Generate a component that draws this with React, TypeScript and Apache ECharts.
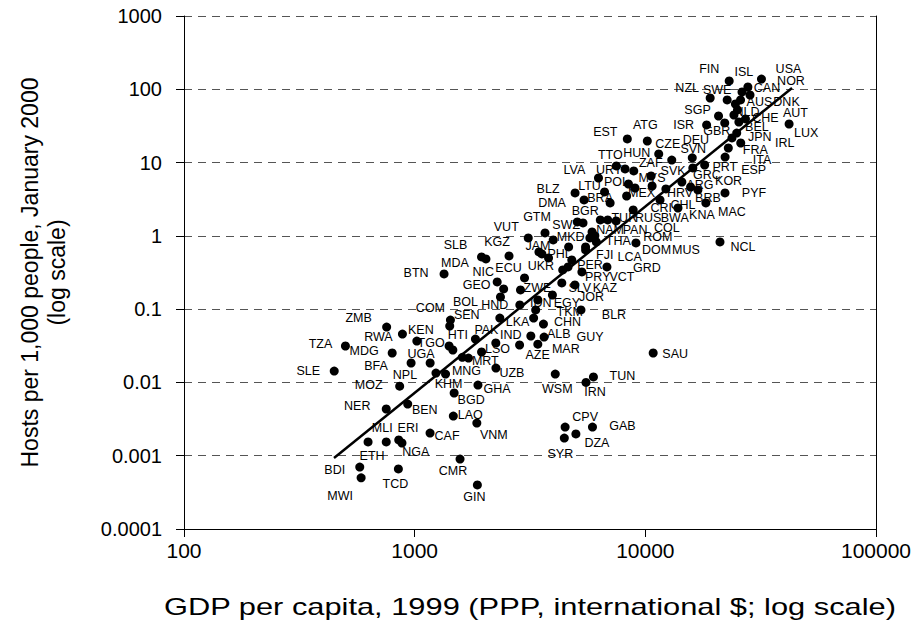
import React, { useEffect, useRef } from "react";
import * as echarts from "echarts";

// ---- data ----
const countries = [
  "BDI","MWI","ETH","MLI","NER","ERI","NGA","TCD","BEN","MOZ","CAF","CMR","GIN","LAO","VNM","BGD","KHM","NPL","BFA","UGA",
  "SLE","TZA","MDG","ZMB","RWA","KEN","TGO","HTI","SEN","COM","MNG","MRT","UZB","GHA","BTN","PAK","IND","LSO","AZE","MAR",
  "ALB","GUY","CHN","LKA","EGY","TKM","IDN","HND","BOL","GEO","NIC","ECU","ZWE","UKR","SLB","MDA","KGZ","VUT","GTM","BLZ",
  "DMA","LTU","BRA","POL","LVA","URY","TTO","MYS","MEX","HRV","ARG","GRC","KOR","BRB","MAC","PYF","CHL","CRI","KNA","TUR",
  "RUS","BWA","SWZ","MKD","BGR","NAM","PAN","COL","THA","ROM","DOM","MUS","FJI","LCA","PER","GRD","PRY","VCT","SLV","KAZ",
  "JOR","BLR","PHL","JAM","TUN","IRN","WSM","SAU","CPV","DZA","SYR","GAB","NCL","SVK","ZAF","HUN","CZE","SVN","PRT","ESP",
  "ITA","FRA","DEU","JPN","IRL","BEL","GBR","ISR","SGP","NLD","CHE","AUT","AUS","DNK","CAN","NOR","ISL","USA","FIN","SWE",
  "NZL","LUX","ATG","EST",
];
const gdpPerCapita = [
  578,586,628,753,753,881,853,850,933,861,1166,1573,1870,1471,1860,1483,1361,1237,965,1167,
  448,501,799,756,885,1022,1410,1464,1419,1429,1711,1609,2251,1881,1341,1834,2248,1950,2850,3419,
  3189,3640,3617,3279,3420,3347,2857,2340,2355,2431,2279,2994,2876,3458,1949,2037,2565,3108,3674,4959,
  5425,6656,7037,8450,6264,8170,7485,9020,8297,10700,12277,14400,15712,16900,18300,22150,11580,8860,13850,6380,
  7473,6872,3987,4651,5071,5369,5875,5749,6132,6041,5507,9107,4799,5509,4622,6817,4384,5309,4344,4951,
  3955,5260,3805,3561,5957,5531,4070,10815,4490,5000,4454,5900,21070,10591,8908,11430,13018,15977,16064,18079,
  22172,22897,23742,24898,25918,25443,22093,18440,20767,24215,27171,25089,24574,25869,26251,28433,27835,31872,23096,22636,
  19104,42000,10200,8355,
];
const hostsPer1000 = [
  0.0007,0.0005,0.00154,0.00154,0.00434,0.00149,0.00164,0.00066,0.00507,0.0089,0.00204,0.0009,0.0004,0.00348,0.00279,0.00717,0.013,0.0134,0.0184,0.0184,
  0.0143,0.0314,0.0252,0.057,0.0457,0.0367,0.0314,0.0277,0.0588,0.071,0.0215,0.022,0.0157,0.0092,0.302,0.039,0.0345,0.026,0.0324,0.0333,
  0.043,0.0416,0.0626,0.0756,0.1335,0.0975,0.114,0.0756,0.147,0.189,0.235,0.267,0.183,0.603,0.516,0.484,0.532,0.936,1.095,3.85,
  3.09,3.97,2.81,5.1,6.16,8.18,8.99,4.5,3.5,4.79,4.37,5.43,4.64,4.23,2.81,3.85,3.09,2.26,2.4,1.65,
  1.6,1.65,0.88,0.706,1.55,1.5,1.13,0.936,0.826,1.0,0.706,0.8,0.469,0.642,0.377,0.377,0.343,0.322,0.228,0.214,
  0.156,0.0975,0.5,0.566,0.0119,0.01,0.013,0.0252,0.00246,0.00198,0.00174,0.00246,0.826,6.56,7.68,13.1,10.8,11.6,8.44,9.27,
  11.9,15.8,21.7,25.3,18.5,35.8,34.7,32.6,43.2,44.6,39.4,52.2,63,71.5,91.9,83.6,107.5,138,130,71.5,
  76.1,33.6,19.7,21,
];
const trendGdp = [447, 43250];
const trendHosts = [0.00093, 104];
const xTickLabels = ["100", "1000", "10000", "100000"];
const yTickLabels = ["0.0001", "0.001", "0.01", "0.1", "1", "10", "100", "1000"];
const xTitle = "GDP per capita, 1999 (PPP, international $; log scale)";
const yTitle = "Hosts per 1,000 people, January 2000\n(log scale)";

// ---- label placement (style): offset of label centre from the dot, px ----
const labelOffsets: Record<string, [number, number]> = {
  BDI:[-25,3],MWI:[-21,18],ETH:[4,14],MLI:[-4,-14],NER:[-29,-3],ERI:[6,-15],NGA:[17,12],TCD:[-3,15],BEN:[17,6],MOZ:[-31,-1],
  CAF:[17,3],CMR:[-7,12],GIN:[-3,12],LAO:[17,-1],VNM:[17,12],BGD:[17,7],KHM:[3,10],NPL:[-31,2],BFA:[-35,3],UGA:[-9,-9],
  SLE:[-26,0],TZA:[-25,-2],MDG:[-28,-2],ZMB:[-28,-9],RWA:[-24,3],KEN:[4,-11],TGO:[-18,-3],HTI:[5,-15],SEN:[17,-11],COM:[-20,-12],
  MNG:[-2,13],MRT:[23,4],UZB:[16,5],GHA:[19,4],BTN:[-28,-1],PAK:[11,-9],IND:[15,-8],LSO:[16,-3],AZE:[18,10],MAR:[28,5],
  ALB:[28,-2],GUY:[46,0],CHN:[24,-2],LKA:[-16,4],EGY:[29,3],TKM:[34,2],IDN:[21,-2],HND:[-5,-13],BOL:[-35,5],GEO:[-27,-4],
  NIC:[-14,-10],ECU:[-16,-10],ZWE:[17,-2],UKR:[2,14],SLB:[-26,-12],MDA:[-31,4],KGZ:[-12,-14],VUT:[-22,-11],GTM:[-8,-16],BLZ:[-27,-4],
  DMA:[-32,3],LTU:[-15,-6],BRA:[-10,-5],POL:[-12,-2],LVA:[-24,-8],URY:[-16,1],TTO:[-6,-11],MYS:[17,-10],MEX:[15,-3],HRV:[28,7],
  ARG:[34,-4],GRC:[25,-7],KOR:[38,-6],BRB:[10,8],MAC:[26,9],PYF:[29,0],CHL:[23,5],CRI:[28,-2],KNA:[24,7],TUR:[24,-2],
  RUS:[32,-3],BWA:[67,-2],SWZ:[13,-15],MKD:[2,-10],BGR:[8,-11],NAM:[27,7],PAN:[43,-2],COL:[77,-10],THA:[22,-1],ROM:[63,1],
  DOM:[71,3],MUS:[50,7],FJI:[33,-5],LCA:[44,7],PER:[22,-2],GRD:[40,1],PRY:[35,7],VCT:[40,5],SLV:[18,5],KAZ:[30,3],
  JOR:[39,2],BLR:[33,5],PHL:[11,-4],JAM:[-4,-8],TUN:[29,-1],IRN:[9,10],WSM:[2,15],SAU:[22,1],CPV:[20,-10],DZA:[21,9],
  SYR:[-4,16],GAB:[30,-1],NCL:[23,5],SVK:[22,-5],ZAF:[17,-8],HUN:[-22,-1],CZE:[-4,-16],SVN:[1,-9],PRT:[32,-1],ESP:[49,5],
  ITA:[37,3],FRA:[27,2],DEU:[-36,2],JPN:[23,4],IRL:[44,0],BEL:[18,5],GBR:[-8,8],ISR:[-23,0],SGP:[-21,-6],NLD:[13,-3],
  CHE:[20,-1],AUT:[58,3],AUS:[24,-2],DNK:[46,2],CAN:[25,-4],NOR:[41,-14],ISL:[-4,-15],USA:[27,-10],FIN:[-20,-12],SWE:[-10,-10],
  NZL:[-23,-10],LUX:[17,9],ATG:[-2,-16],EST:[-22,-7],
};

const FONT = "'Liberation Sans', Arial, Helvetica, sans-serif";

export default function App() {
  const ref = useRef<HTMLDivElement>(null);

  useEffect(() => {
    if (!ref.current) return;
    const chart = echarts.init(ref.current, null, { renderer: "svg" });

    const scatterData = countries.map((name, i) => ({
      name,
      value: [gdpPerCapita[i], hostsPer1000[i]],
      label: { offset: labelOffsets[name] || [0, 0] },
    }));

    const option: any = {
      animation: false,
      backgroundColor: "#ffffff",
      textStyle: { fontFamily: FONT },
      grid: { left: 184, right: 46, top: 16, bottom: 101, containLabel: false, outerBoundsMode: "none" },
      graphic: [
        {
          type: "text",
          x: 530,
          y: 607,
          scaleX: 1.34,
          silent: true,
          style: {
            text: xTitle,
            fill: "#000",
            font: `23px ${FONT}`,
            textAlign: "center",
            textVerticalAlign: "middle",
          },
        },
      ],
      xAxis: {
        type: "log",
        logBase: 10,
        min: 100,
        max: 100000,
        splitNumber: 3,
        axisLine: { show: true, lineStyle: { color: "#000", width: 1 } },
        axisTick: { show: true, inside: false, length: 8, lineStyle: { color: "#000" } },
        minorTick: { show: false },
        splitLine: { show: false },
        axisLabel: {
          color: "#000",
          fontSize: 21,
          fontFamily: FONT,
          margin: 11,
          formatter: (v: number) => xTickLabels[Math.round(Math.log10(v)) - 2] ?? "",
        },
      },
      yAxis: [
        {
          type: "log",
          logBase: 10,
          min: 0.0001,
          max: 1000,
          splitNumber: 7,
          name: yTitle,
          nameLocation: "middle",
          nameRotate: 90,
          nameGap: 114,
          nameTextStyle: { fontSize: 23, color: "#000", fontFamily: FONT, lineHeight: 27, align: "center" },
          axisLine: { show: true, lineStyle: { color: "#000", width: 1 } },
          axisTick: { show: true, inside: false, length: 8, lineStyle: { color: "#000" } },
          minorTick: { show: false },
          splitLine: { show: true, lineStyle: { color: "#555", width: 1, type: [8, 6] } },
          axisLabel: {
            color: "#000",
            fontSize: 20,
            fontFamily: FONT,
            margin: 22,
            formatter: (v: number) => yTickLabels[Math.round(Math.log10(v)) + 4] ?? "",
          },
        },
        {
          type: "log",
          logBase: 10,
          min: 0.0001,
          max: 1000,
          position: "right",
          axisLine: { show: true, onZero: false, lineStyle: { color: "#000", width: 1 } },
          axisTick: { show: false },
          axisLabel: { show: false },
          splitLine: { show: false },
        },
      ],
      series: [
        {
          type: "scatter",
          yAxisIndex: 0,
          symbol: "circle",
          symbolSize: 9,
          itemStyle: { color: "#000", opacity: 1 },
          data: scatterData,
          label: {
            show: true,
            position: "inside",
            formatter: "{b}",
            color: "#000",
            fontSize: 12.5,
            fontFamily: FONT,
          },
          z: 3,
        },
        {
          type: "line",
          yAxisIndex: 0,
          data: trendGdp.map((g, i) => [g, trendHosts[i]]),
          symbol: "none",
          lineStyle: { color: "#000", width: 2.5 },
          z: 4,
        },
      ],
    };

    chart.setOption(option);
    return () => chart.dispose();
  }, []);

  return (
    <div
      ref={ref}
      style={{ position: "fixed", left: 0, top: 0, width: 922, height: 630, background: "#fff" }}
    />
  );
}
